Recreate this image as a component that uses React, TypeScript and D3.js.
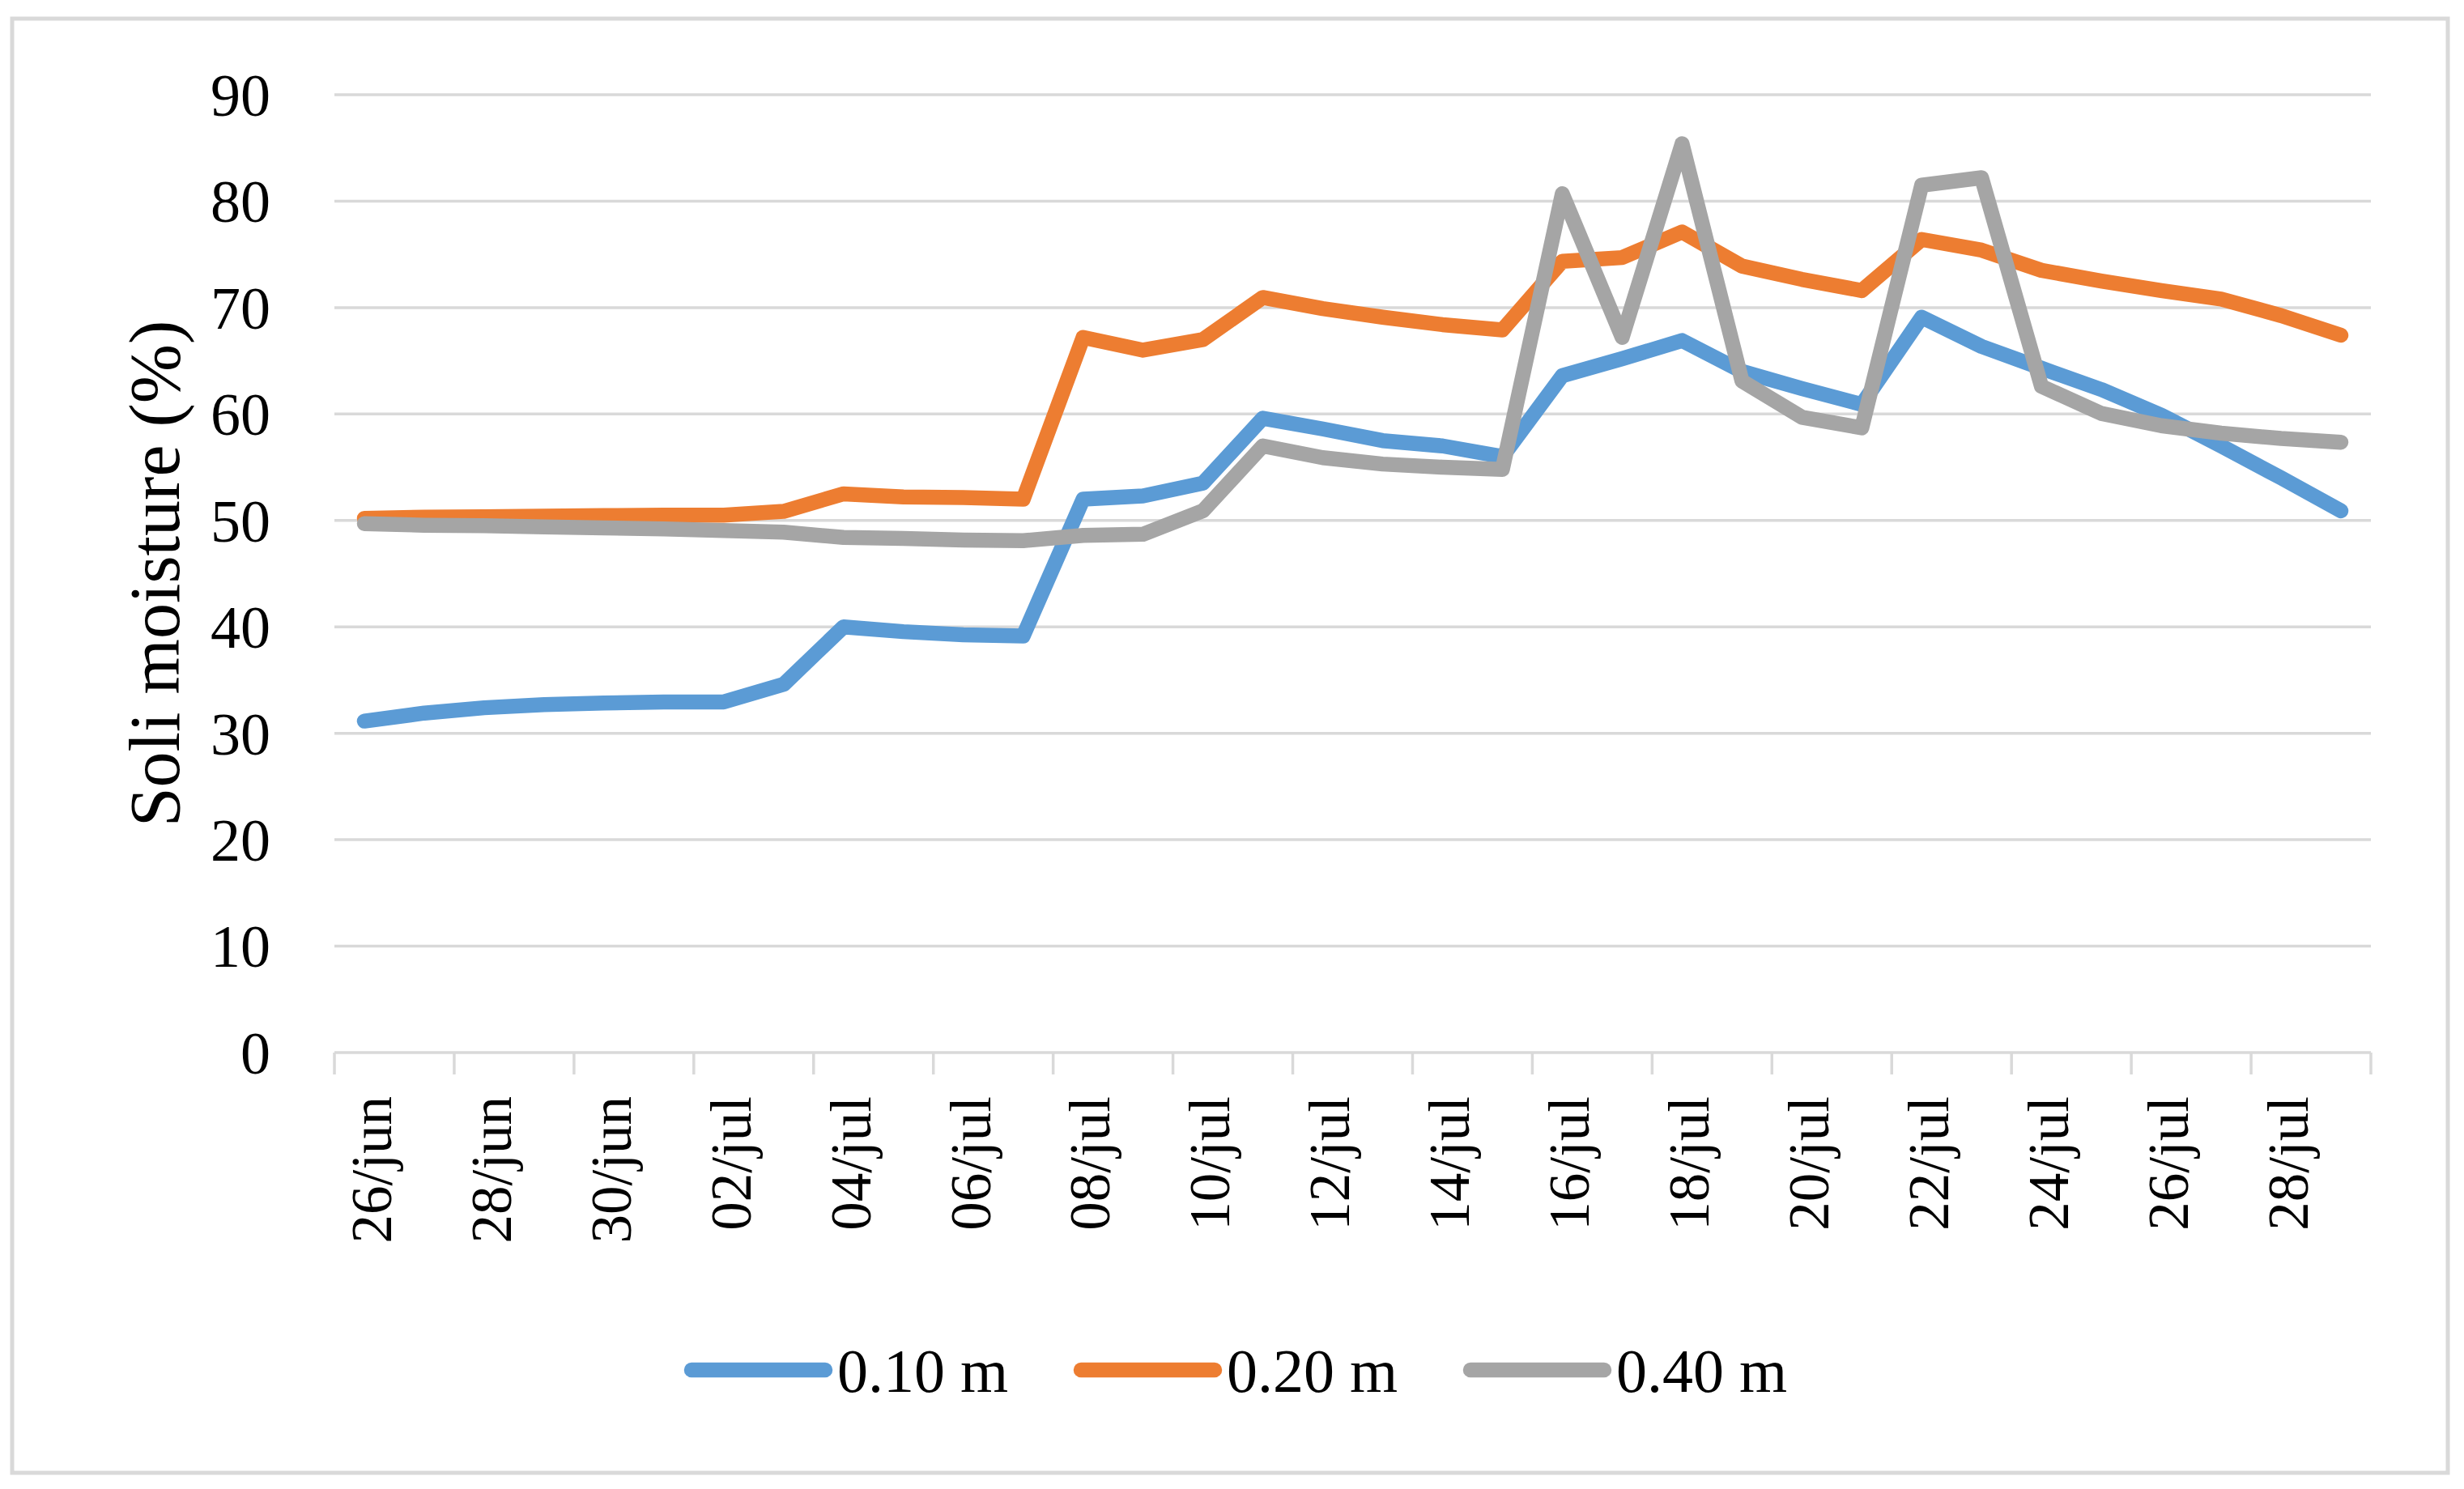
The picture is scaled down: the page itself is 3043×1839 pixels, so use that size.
import React from 'react';
import * as d3 from 'd3';

const dates = [
  '26/jun', '27/jun', '28/jun', '29/jun', '30/jun', '01/jul', '02/jul', '03/jul', '04/jul',
  '05/jul', '06/jul', '07/jul', '08/jul', '09/jul', '10/jul', '11/jul', '12/jul', '13/jul',
  '14/jul', '15/jul', '16/jul', '17/jul', '18/jul', '19/jul', '20/jul', '21/jul', '22/jul',
  '23/jul', '24/jul', '25/jul', '26/jul', '27/jul', '28/jul', '29/jul',
];

const depth010 = [
  31.15, 31.9, 32.4, 32.7, 32.85, 32.95, 32.95, 34.6, 40.0, 39.55, 39.25, 39.15, 52.0, 52.3, 53.5,
  59.6, 58.6, 57.5, 57.0, 56.0, 63.6, 65.2, 66.9, 64.0, 62.4, 60.9, 69.1, 66.35, 64.3, 62.3,
  59.9, 57.0, 54.0, 50.9,
];

const depth020 = [
  50.2, 50.3, 50.35, 50.4, 50.45, 50.5, 50.5, 50.85, 52.5, 52.2, 52.15, 52.0, 67.2, 66.0, 67.0,
  70.95, 69.9, 69.1, 68.4, 67.9, 74.35, 74.7, 77.1, 73.9, 72.65, 71.6, 76.4, 75.4, 73.5, 72.5,
  71.6, 70.8, 69.25, 67.4,
];

const depth040 = [
  49.7, 49.55, 49.5, 49.4, 49.3, 49.2, 49.05, 48.9, 48.4, 48.3, 48.15, 48.1, 48.6, 48.7, 50.9,
  57.0, 55.9, 55.3, 55.0, 54.8, 80.7, 67.2, 85.4, 63.1, 59.7, 58.7, 81.5, 82.2, 62.6, 60.05,
  58.9, 58.2, 57.7, 57.35,
];

const seriesNames = ['0.10 m', '0.20 m', '0.40 m'];
const seriesColors = ['#5b9bd5', '#ed7d31', '#a5a5a5'];
const yTicks = [0, 10, 20, 30, 40, 50, 60, 70, 80, 90];

const W = 3043;
const H = 1839;
const margin = { top: 117, right: 115, bottom: 539, left: 413 };
const font = '"Palatino Linotype", "Book Antiqua", Palatino, "Liberation Serif", serif';
const gridColor = '#d9d9d9';
const lineWidth = 18.5;

export default function App() {
  const series = [depth010, depth020, depth040];

  const x = d3.scaleBand<string>()
    .domain(dates)
    .range([margin.left, W - margin.right])
    .padding(0);

  const y = d3.scaleLinear()
    .domain([0, 90])
    .range([H - margin.bottom, margin.top]);

  const cx = (d: string) => (x(d) ?? 0) + x.bandwidth() / 2;

  const line = d3.line<number>()
    .x((_, i) => cx(dates[i]))
    .y(d => y(d));

  // tick marks sit between categories, every second one
  const tickXs = dates.filter((_, i) => i % 2 === 0).map(d => x(d) ?? 0);
  tickXs.push(W - margin.right);

  const axisY = y(0);

  // legend layout
  const legendY = 1692;
  const legendStart = 854;
  const legendStep = 481;
  const swatch = 165;

  return (
    <svg
      width={W}
      height={H}
      style={{ position: 'absolute', left: 0, top: 0, background: '#fff' }}
      fontFamily={font}
    >
      <rect x={0} y={0} width={W} height={H} fill="#fff" />
      <rect x={15} y={23} width={3008} height={1796} fill="none" stroke={gridColor} strokeWidth={5} />

      {/* gridlines */}
      {yTicks.filter(t => t > 0).map(t => (
        <line key={t} x1={margin.left} x2={W - margin.right} y1={y(t)} y2={y(t)}
          stroke={gridColor} strokeWidth={3.5} />
      ))}

      {/* y tick labels */}
      {yTicks.map(t => (
        <text key={t} x={334} y={y(t)} dy="0.35em" textAnchor="end" fontSize={74} fill="#000">
          {t}
        </text>
      ))}

      {/* y title */}
      <text
        transform={`translate(190, ${(margin.top + axisY) / 2}) rotate(-90)`}
        textAnchor="middle"
        dy="0.35em"
        fontSize={88}
        fill="#000"
      >
        Soli moisture (%)
      </text>

      {/* x axis */}
      <line x1={margin.left} x2={W - margin.right} y1={axisY} y2={axisY}
        stroke={gridColor} strokeWidth={3.5} />
      {tickXs.map((tx, i) => (
        <line key={i} x1={tx} x2={tx} y1={axisY} y2={axisY + 27} stroke={gridColor} strokeWidth={3.5} />
      ))}
      {dates.filter((_, i) => i % 2 === 0).map(d => (
        <text
          key={d}
          transform={`translate(${cx(d) + 8}, ${axisY + 54}) rotate(-90)`}
          textAnchor="end"
          dy="0.35em"
          fontSize={71}
          fill="#000"
        >
          {d}
        </text>
      ))}

      {/* series */}
      {series.map((s, k) => (
        <path key={k} d={line(s) ?? ''} fill="none" stroke={seriesColors[k]}
          strokeWidth={lineWidth} strokeLinejoin="round" strokeLinecap="round" />
      ))}

      {/* legend */}
      {seriesNames.map((name, k) => {
        const lx = legendStart + k * legendStep;
        return (
          <g key={name}>
            <line x1={lx} x2={lx + swatch} y1={legendY} y2={legendY}
              stroke={seriesColors[k]} strokeWidth={lineWidth} strokeLinecap="round" />
            <text x={lx + swatch + 15} y={legendY} dy="0.35em" fontSize={76} fill="#000">
              {name}
            </text>
          </g>
        );
      })}
    </svg>
  );
}
